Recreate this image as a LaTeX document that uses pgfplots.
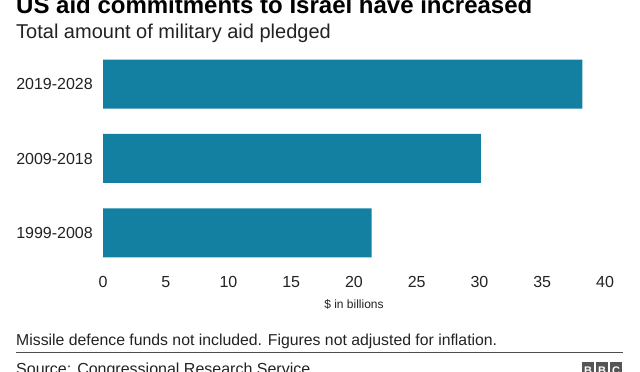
\documentclass[border=0pt]{standalone}
\usepackage{pgfplots}
\pgfplotsset{compat=1.18}
\usepackage{fontspec}
\setmainfont{Liberation Sans}
\definecolor{barc}{HTML}{1380A1}
\definecolor{txt}{HTML}{222222}
\definecolor{logo}{HTML}{555555}
\begin{document}
\begin{tikzpicture}[x=1pt,y=1pt]
\path[use as bounding box] (0,0) rectangle (640,372);
\begin{scope}
\clip (0,0) rectangle (640,372);
\node[anchor=base west, inner sep=0pt, text=black, font=\fontsize{24}{24}\selectfont\bfseries] at (16,372-14) {US aid commitments to Israel have increased};
\node[anchor=base west, inner sep=0pt, text=txt, font=\fontsize{20}{20}\selectfont] at (16,372-39) {Total amount of military aid pledged};
\begin{axis}[
  at={(103pt,102pt)}, anchor=south west,
  scale only axis, width=502pt, height=223pt,
  xmin=0, xmax=40, ymin=-0.5, ymax=2.5,
  xbar, bar width=49pt,
  ytick={0,1,2}, yticklabels={1999-2008,2009-2018,2019-2028},
  xtick={0,5,...,40},
  axis line style={draw=none},
  major tick length=0pt,
  /pgf/number format/assume math mode=true,
  tick label style={font=\fontsize{16}{16}\selectfont, text=txt, inner sep=0pt},
  xticklabel style={anchor=north, yshift=-6pt},
  yticklabel style={anchor=east, xshift=-10pt},
]
\addplot[fill=barc, draw=none] coordinates {(21.4,0) (30.1,1) (38.2,2)};
\end{axis}
\node[text=txt, font=\fontsize{12}{12}\selectfont] at (354,372-304) {\$ in billions};
\node[anchor=base west, inner sep=0pt, text=txt, font=\fontsize{15.8}{15.8}\selectfont] at (16,372-346) {Missile defence funds not included. Figures not adjusted for inflation.};
\draw[line width=1pt, color=txt!80] (16,372-353) -- (623,372-353);
\node[anchor=base west, inner sep=0pt, text=txt, font=\fontsize{16}{16}\selectfont] at (16,-3) {Source: Congressional Research Service};
\foreach \i/\l in {0/B,1/B,2/C} {
  \fill[logo] (582+\i*14,372-362) rectangle ++(12,-12);
  \node[text=white, font=\fontsize{11}{11}\selectfont\bfseries, inner sep=0pt, anchor=base] at (588+\i*14,-3) {\l};
}
\end{scope}
\end{tikzpicture}
\end{document}
